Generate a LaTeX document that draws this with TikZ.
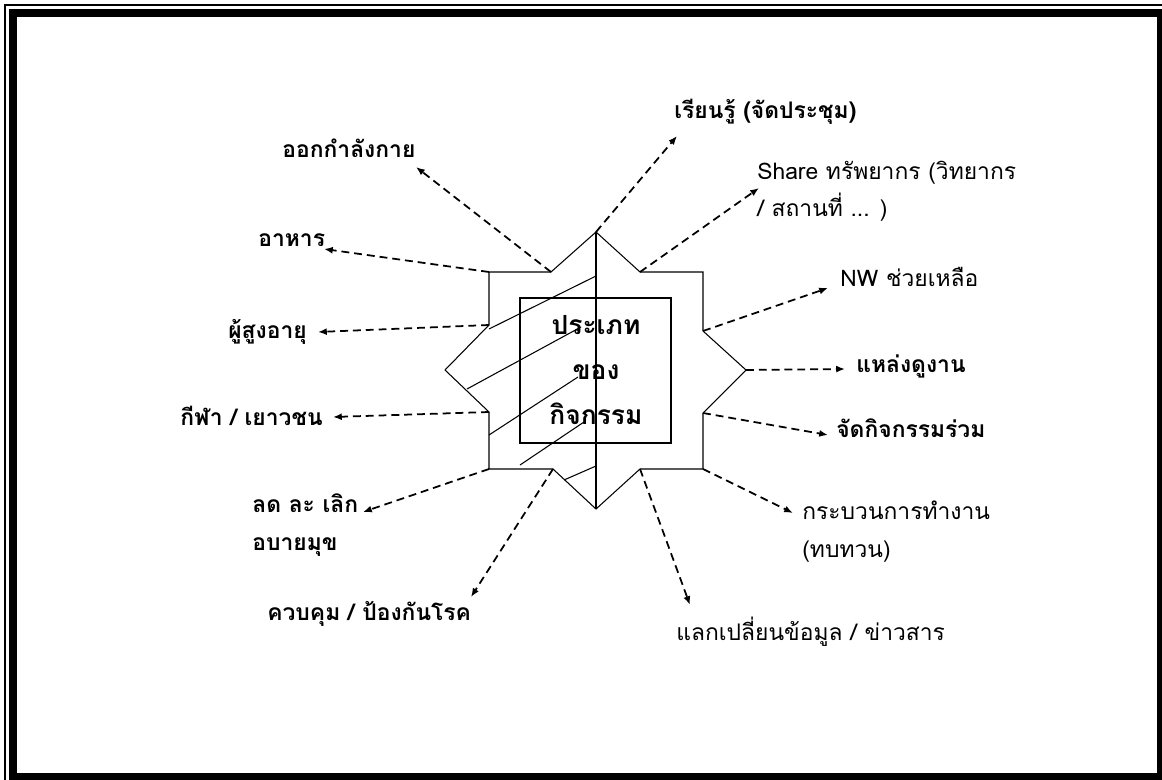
\documentclass[tikz,border=0pt]{standalone}
\usepackage{fontspec}
\setmainfont[Script=Thai]{Loma}
\usetikzlibrary{arrows.meta}
\begin{document}
\begin{tikzpicture}[x=0.02cm, y=-0.02cm,
    lbl/.style={anchor=base west, inner sep=0pt, align=left, font=\fontsize{13}{21.5}\selectfont},
    lblb/.style={lbl, font=\fontsize{13}{21.5}\selectfont\bfseries},
    link/.style={line width=1pt, dash pattern=on 4.5pt off 2.8pt, -{Latex[length=5pt,width=4pt]}},
    edge/.style={line width=0.6pt}
  ]
    \useasboundingbox (0,0) rectangle (1162,780);
    % --- Page border ---
    \draw[line width=0.6pt] (5,5) rectangle (1175,790);
    \draw[line width=0.16cm] (12.8,12.8) rectangle (1161,777);

    % --- Star outline ---
    \coordinate (sT) at (596,232);
    \coordinate (sTL) at (551,272);
    \coordinate (sTR) at (640,272);
    \coordinate (cNW) at (489,272);
    \coordinate (cNE) at (703,272);
    \coordinate (cSE) at (703,469);
    \coordinate (cSW) at (489,469);
    \coordinate (sLT) at (489,325);
    \coordinate (sL) at (445,370);
    \coordinate (sLB) at (489,412);
    \coordinate (sRT) at (703,331);
    \coordinate (sR) at (746,370);
    \coordinate (sRB) at (703,413);
    \coordinate (sBL) at (553,469);
    \coordinate (sB) at (596,509);
    \coordinate (sBR) at (640,469);
    \draw[edge] (cNW) -- (sTL) -- (sT) -- (sTR) -- (cNE) -- (sRT) -- (sR) -- (sRB)
      -- (cSE) -- (sBR) -- (sB) -- (sBL) -- (cSW) -- (sLB) -- (sL) -- (sLT) -- cycle;
    \draw[edge] (sT) -- (sB);

    % Hatching on the left half
    \draw[edge] (489,329) -- (596,276);
    \draw[edge] (467,389) -- (581,327);
    \draw[edge] (489,435) -- (578,377);
    \draw[edge] (520,465) -- (584,422);
    \draw[edge] (564,480) -- (596,466);

    % Inner square with title
    \draw[edge] (520,298) rectangle (671,443);
    \node[font=\fontsize{15}{25.8}\selectfont\bfseries, align=center, inner sep=0pt] (core) at (596,370)
      {ประเภท\\ของ\\กิจกรรม};

    % --- LEFT labels ---
    \node[lblb] (lExercise) at (282,158) {ออกกำลังกาย};
    \node[lblb] (lFood) at (258,247) {อาหาร};
    \node[lblb] (lElder) at (228,338) {ผู้สูงอายุ};
    \node[lblb] (lSport) at (180,425) {กีฬา / เยาวชน};
    \node[lblb] (lVice) at (252,550) {ลด ละ เลิก\\อบายมุข};
    \node[lblb] (lDisease) at (267,620) {ควบคุม / ป้องกันโรค};

    % --- RIGHT labels ---
    \node[lblb] (lLearn) at (674,119) {เรียนรู้ (จัดประชุม)};
    \node[lbl] (lShare) at (757,217) {Share ทรัพยากร (วิทยากร\\/ สถานที่ ... )};
    \node[lbl] (lNet) at (840,287) {NW ช่วยเหลือ};
    \node[lblb] (lVisit) at (856,372) {แหล่งดูงาน};
    \node[lblb] (lJoint) at (836,437) {จัดกิจกรรมร่วม};
    \node[lbl] (lProcess) at (802,557) {กระบวนการทำงาน\\(ทบทวน)};
    \node[lbl] (lInfo) at (676,640) {แลกเปลี่ยนข้อมูล / ข่าวสาร};

    % --- Arrow tips ---
    \coordinate (tExercise) at (416,167);
    \coordinate (tFood) at (324,249);
    \coordinate (tElder) at (318,332);
    \coordinate (tSport) at (333,417);
    \coordinate (tVice) at (363,512);
    \coordinate (tDisease) at (471,597);
    \coordinate (tLearn) at (677,136);
    \coordinate (tShare) at (759,188);
    \coordinate (tNet) at (828,288);
    \coordinate (tVisit) at (845,369);
    \coordinate (tJoint) at (828,435);
    \coordinate (tProcess) at (793,513);
    \coordinate (tInfo) at (690,605);

    % --- Dashed links ---
    \draw[link] (sTL) -- (tExercise);
    \draw[link] (cNW) -- (tFood);
    \draw[link] (sLT) -- (tElder);
    \draw[link] (sLB) -- (tSport);
    \draw[link] (cSW) -- (tVice);
    \draw[link] (sBL) -- (tDisease);
    \draw[link] (sT) -- (tLearn);
    \draw[link] (sTR) -- (tShare);
    \draw[link] (sRT) -- (tNet);
    \draw[link] (sR) -- (tVisit);
    \draw[link] (sRB) -- (tJoint);
    \draw[link] (cSE) -- (tProcess);
    \draw[link] (sBR) -- (tInfo);
  \end{tikzpicture}
\end{document}
